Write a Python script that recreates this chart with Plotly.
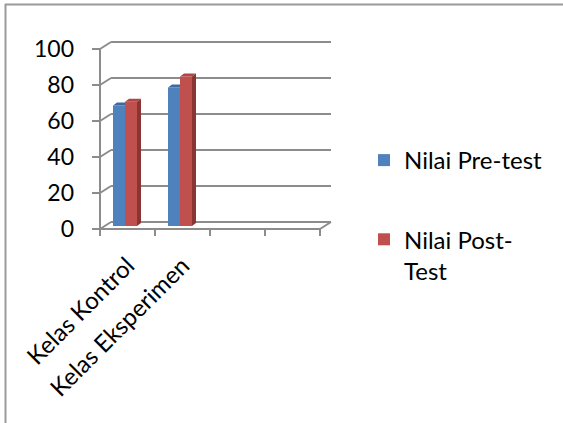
import plotly.graph_objects as go

# Data
categories = ["Kelas Kontrol", "Kelas Eksperimen"]
n_slots = 4  # category slots on the floor (two are empty)
pre_test = [67, 77]
post_test = [69, 83]
series_names = ["Nilai Pre-test", "Nilai Post-<br>Test"]
y_ticks = [0, 20, 40, 60, 80, 100]

# Styling
BLUE, BLUE_TOP = "#4F81BD", "#3D6AA1"
RED, RED_TOP, RED_SIDE = "#C0504D", "#B04643", "#8A3532"
GRID = "#8C8C8C"
FONT = "Lato"

# Pixel geometry of the plot area (563x423 canvas)
W, H = 563, 423
L, R, T, B = 90, 345, 30, 240
PX_X = 55.0          # pixels per category slot
PX_Y = 1.8           # pixels per value unit
X0_PX, Y0_PX = 100, 229   # front-left floor corner

x_range = [-0.5 - (X0_PX - L) / PX_X, -0.5 + (R - X0_PX) / PX_X]
y_range = [-(B - Y0_PX) / PX_Y, (Y0_PX - T) / PX_Y]


def paper_x(px):
    return (px - L) / (R - L)


def paper_y(py):
    return (B - py) / (B - T)


# 3-D depth of the walls and of the bars (in data units)
WALL_DX, WALL_DY = 11 / PX_X, 7 / PX_Y
BAR_DX, BAR_DY = 4 / PX_X, 3 / PX_Y
BAR_SHIFT_Y = 3 / PX_Y          # bars sit a little behind the front edge
BAR_W = 12 / PX_X
OFF_PRE = (113 - 127.5) / PX_X
OFF_POST = OFF_PRE + BAR_W

xs = list(range(len(categories)))

fig = go.Figure()
fig.add_trace(go.Bar(x=xs, y=pre_test, base=BAR_SHIFT_Y, name=series_names[0],
                     marker=dict(color=BLUE, line=dict(width=0)),
                     width=BAR_W, offset=OFF_PRE, legendgroup="pre"))
fig.add_trace(go.Bar(x=xs, y=post_test, base=BAR_SHIFT_Y, name=series_names[1],
                     marker=dict(color=RED, line=dict(width=0)),
                     width=BAR_W, offset=OFF_POST, legendgroup="post"))

shapes = []


def line(x0, y0, x1, y1, layer="below", w=2):
    shapes.append(dict(type="line", xref="x", yref="y", x0=x0, y0=y0, x1=x1, y1=y1,
                       line=dict(color=GRID, width=w), layer=layer))


def poly(pts, color):
    path = "M" + " L".join(f"{px},{py}" for px, py in pts) + " Z"
    shapes.append(dict(type="path", xref="x", yref="y", path=path,
                       fillcolor=color, line=dict(width=0), layer="above"))


x_left, x_right = -0.5, n_slots - 0.5
tick_len_x = 8 / PX_X
tick_len_y = 7 / PX_Y

# Back-wall gridlines, left-wall diagonals and y tick marks
for v in y_ticks:
    line(x_left + WALL_DX, v + WALL_DY, x_right + WALL_DX, v + WALL_DY)
    line(x_left, v, x_left + WALL_DX, v + WALL_DY)
    line(x_left - tick_len_x, v, x_left, v)

# Front vertical axis, floor front edge, right floor diagonal
line(x_left, 0, x_left, y_ticks[-1])
line(x_left, 0, x_right, 0)
line(x_right, 0, x_right + WALL_DX, WALL_DY)

# Category tick marks along the floor
for i in range(n_slots + 1):
    xt = x_left + i
    line(xt, 0, xt, -tick_len_y)

# 3-D faces of the bars
for i, (vp, vq) in enumerate(zip(pre_test, post_test)):
    # pre-test top face (clipped where the post-test bar hides it)
    xl = i + OFF_PRE
    xr = xl + BAR_W
    top = vp + BAR_SHIFT_Y
    poly([(xl, top), (xr, top), (xr, top + BAR_DY), (xl + BAR_DX, top + BAR_DY)], BLUE_TOP)
    # post-test top and side faces
    xl = i + OFF_POST
    xr = xl + BAR_W
    top = vq + BAR_SHIFT_Y
    poly([(xl, top), (xr, top), (xr + BAR_DX, top + BAR_DY), (xl + BAR_DX, top + BAR_DY)], RED_TOP)
    poly([(xr, BAR_SHIFT_Y), (xr, top), (xr + BAR_DX, top + BAR_DY),
          (xr + BAR_DX, BAR_SHIFT_Y + BAR_DY)], RED_SIDE)

# Chart frame (top and left edges)
FRAME = "#9A9A9A"
shapes.append(dict(type="line", xref="paper", yref="paper",
                   x0=paper_x(5), x1=paper_x(W), y0=paper_y(4.5), y1=paper_y(4.5),
                   line=dict(color=FRAME, width=2), layer="below"))
shapes.append(dict(type="line", xref="paper", yref="paper",
                   x0=paper_x(5.5), x1=paper_x(5.5), y0=paper_y(4), y1=paper_y(H),
                   line=dict(color=FRAME, width=2), layer="below"))

fig.update_layout(
    width=W, height=H,
    margin=dict(l=L, r=W - R, t=T, b=H - B, autoexpand=False),
    paper_bgcolor="white", plot_bgcolor="rgba(0,0,0,0)",
    font=dict(family=FONT, color="black"),
    barmode="overlay",
    showlegend=True,
    legend=dict(x=paper_x(364), y=paper_y(138), xanchor="left", yanchor="top",
                font=dict(size=24, family=FONT), tracegroupgap=45,
                traceorder="grouped", valign="top", itemwidth=30,
                bgcolor="rgba(0,0,0,0)"),
    shapes=shapes,
)

fig.update_xaxes(range=x_range, tickmode="array", tickvals=xs, ticktext=categories,
                 tickangle=-45, showgrid=False, zeroline=False, showline=False,
                 ticks="", ticklabelstandoff=6,
                 tickfont=dict(size=24, family=FONT), fixedrange=True)
fig.update_yaxes(range=y_range, tickmode="array", tickvals=y_ticks,
                 showgrid=False, zeroline=False, showline=False, ticks="",
                 ticklabelstandoff=15,
                 tickfont=dict(size=23, family=FONT), fixedrange=True)

# the static chart needs no toolbar
fig.write_html("out.html", config={"displayModeBar": False, "staticPlot": True})
